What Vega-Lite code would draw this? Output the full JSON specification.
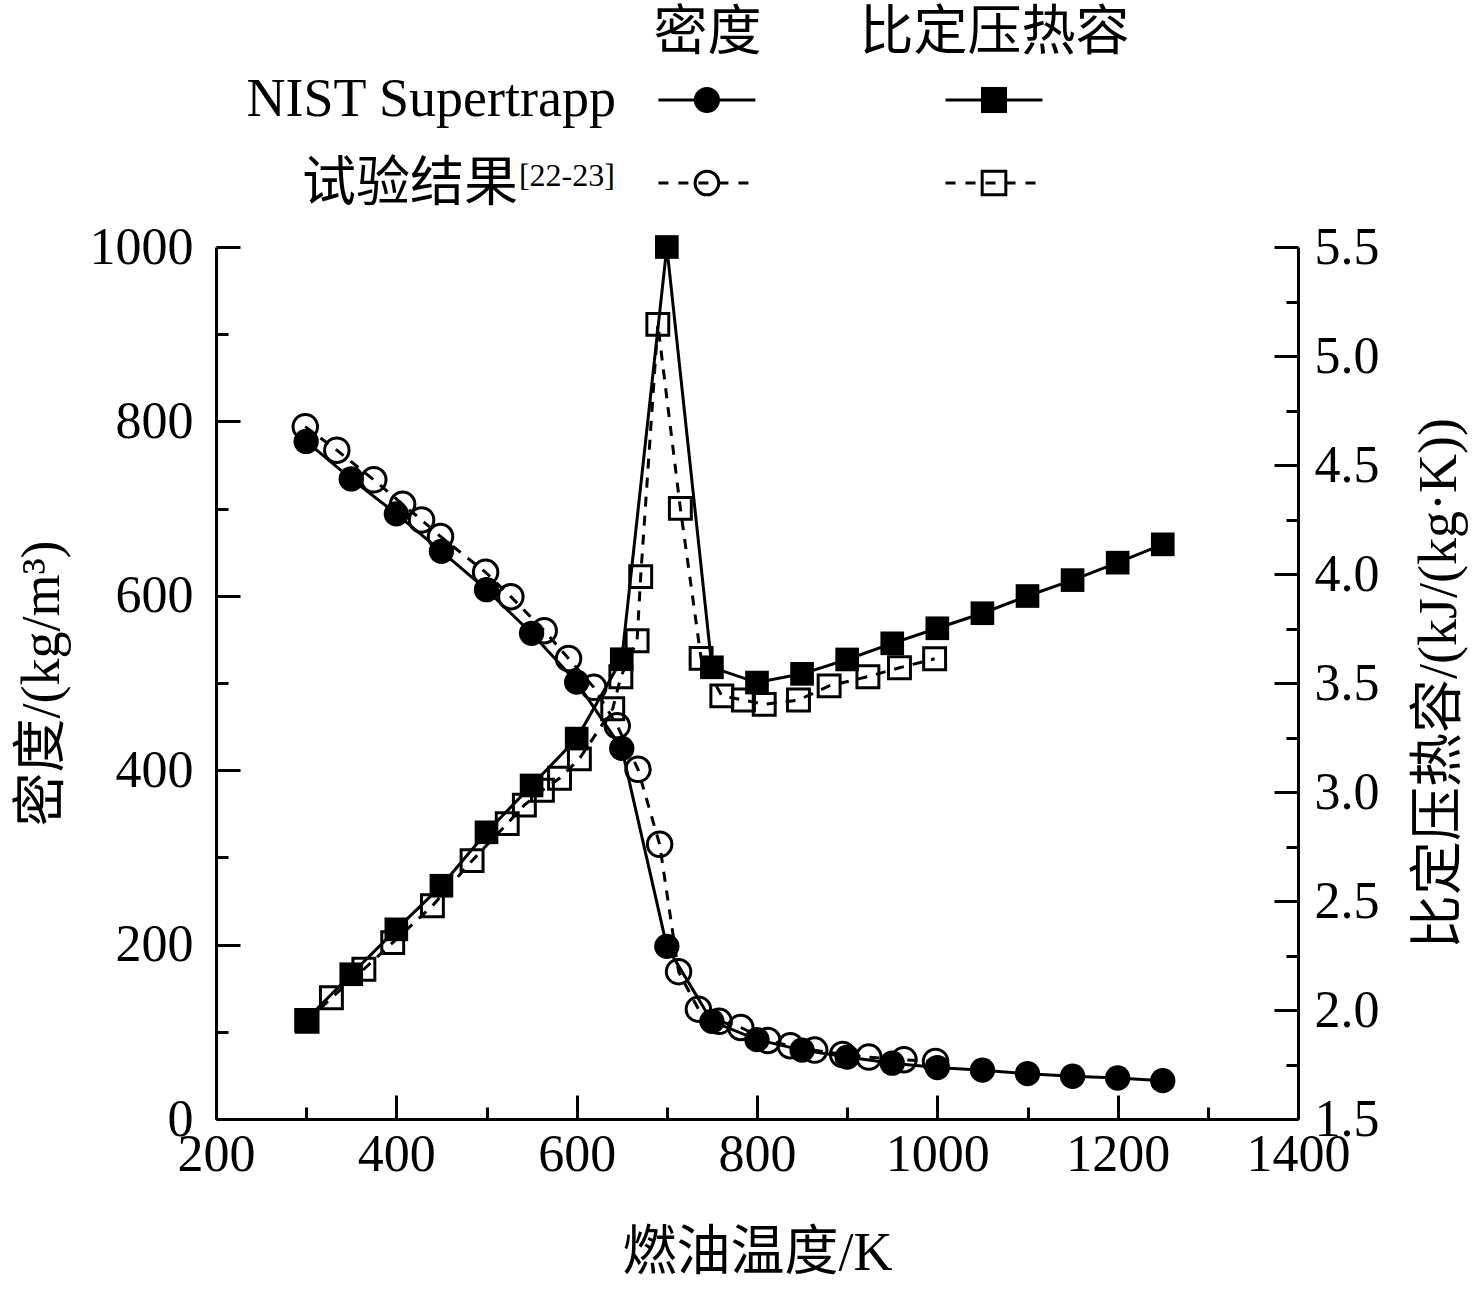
{
  "$schema": "https://vega.github.io/schema/vega-lite/v6.json",
  "background": "white",
  "padding": {"left": 15, "top": 6, "right": 5, "bottom": 5},
  "config": {
    "view": {"stroke": null},
    "font": "Liberation Serif, Noto Sans CJK SC",
    "axis": {"grid": false}
  },
  "datasets": {
    "nist": [
      {"T": 300, "density": 777, "cp": 1.955},
      {"T": 350, "density": 734, "cp": 2.164},
      {"T": 400, "density": 694, "cp": 2.370},
      {"T": 450, "density": 651, "cp": 2.570},
      {"T": 500, "density": 607, "cp": 2.815},
      {"T": 550, "density": 557, "cp": 3.030},
      {"T": 600, "density": 501, "cp": 3.245},
      {"T": 650, "density": 425, "cp": 3.609},
      {"T": 700, "density": 198, "cp": 5.500},
      {"T": 750, "density": 112, "cp": 3.572},
      {"T": 800, "density": 91, "cp": 3.502},
      {"T": 850, "density": 79, "cp": 3.542},
      {"T": 900, "density": 71, "cp": 3.608},
      {"T": 950, "density": 64, "cp": 3.682},
      {"T": 1000, "density": 59, "cp": 3.751},
      {"T": 1050, "density": 56, "cp": 3.820},
      {"T": 1100, "density": 52, "cp": 3.899},
      {"T": 1150, "density": 49, "cp": 3.972},
      {"T": 1200, "density": 47, "cp": 4.052},
      {"T": 1250, "density": 44, "cp": 4.136}
    ],
    "expDensity": [
      {"T": 299, "density": 794},
      {"T": 334, "density": 767},
      {"T": 375, "density": 733},
      {"T": 407, "density": 705},
      {"T": 428, "density": 687},
      {"T": 449, "density": 668},
      {"T": 499, "density": 627},
      {"T": 527, "density": 599},
      {"T": 564, "density": 560},
      {"T": 591, "density": 528},
      {"T": 619, "density": 495},
      {"T": 645, "density": 451},
      {"T": 668, "density": 401},
      {"T": 692, "density": 315},
      {"T": 713, "density": 169},
      {"T": 735, "density": 126},
      {"T": 758, "density": 112},
      {"T": 782, "density": 105},
      {"T": 812, "density": 90},
      {"T": 837, "density": 84},
      {"T": 864, "density": 79},
      {"T": 895, "density": 74},
      {"T": 924, "density": 71},
      {"T": 963, "density": 68},
      {"T": 998, "density": 66}
    ],
    "expCp": [
      {"T": 301, "cp": 1.948},
      {"T": 328, "cp": 2.056},
      {"T": 364, "cp": 2.187},
      {"T": 396, "cp": 2.309},
      {"T": 440, "cp": 2.478},
      {"T": 484, "cp": 2.685},
      {"T": 523, "cp": 2.855},
      {"T": 542, "cp": 2.940},
      {"T": 562, "cp": 3.008},
      {"T": 581, "cp": 3.063},
      {"T": 603, "cp": 3.152},
      {"T": 640, "cp": 3.382},
      {"T": 649, "cp": 3.529},
      {"T": 667, "cp": 3.694},
      {"T": 671, "cp": 3.988},
      {"T": 690, "cp": 5.145},
      {"T": 715, "cp": 4.301},
      {"T": 738, "cp": 3.613},
      {"T": 761, "cp": 3.441},
      {"T": 785, "cp": 3.422},
      {"T": 808, "cp": 3.402},
      {"T": 846, "cp": 3.422},
      {"T": 880, "cp": 3.487},
      {"T": 923, "cp": 3.529},
      {"T": 958, "cp": 3.570},
      {"T": 997, "cp": 3.611}
    ],
    "legendItems": [
      {"source": "NIST Supertrapp", "quantity": "密度"},
      {"source": "NIST Supertrapp", "quantity": "比定压热容"},
      {"source": "试验结果", "quantity": "密度"},
      {"source": "试验结果", "quantity": "比定压热容"}
    ]
  },
  "bounds": "flush",
  "spacing": 24,
  "vconcat": [
    {
      "width": 778,
      "height": 163,
      "data": {"name": "legendItems"},
      "encoding": {
        "x": {
          "field": "quantity", "type": "nominal", "sort": null,
          "scale": {"type": "point", "domain": ["密度", "比定压热容"], "padding": 0.855, "align": 1},
          "axis": {"orient": "top", "title": null, "domain": false, "ticks": false, "labelAngle": 0,
                   "labelFontSize": 54, "labelColor": "black", "labelPadding": 0, "labelLimit": 0,
                   "labelFont": "Liberation Serif, Noto Sans CJK SC"}
        },
        "y": {
          "field": "source", "type": "nominal", "sort": null,
          "scale": {"type": "point", "domain": ["NIST Supertrapp", "试验结果"], "padding": 0.482},
          "axis": null
        }
      },
      "layer": [
        {
          "mark": {"type": "point", "shape": "M-1,0L1,0", "size": 9409, "filled": false, "color": "black", "strokeWidth": 3, "opacity": 1},
          "encoding": {
            "strokeDash": {"field": "source", "type": "nominal",
              "scale": {"domain": ["NIST Supertrapp", "试验结果"], "range": [[1, 0], [10, 10]]}, "legend": null}
          }
        },
        {
          "transform": [{"filter": "datum.source === 'NIST Supertrapp'"}],
          "mark": {"type": "point", "filled": true, "color": "black", "opacity": 1, "size": 680},
          "encoding": {
            "shape": {"field": "quantity", "type": "nominal",
              "scale": {"domain": ["密度", "比定压热容"], "range": ["circle", "square"]}, "legend": null}
          }
        },
        {
          "transform": [{"filter": "datum.source === '试验结果'"}],
          "mark": {"type": "point", "filled": false, "color": "black", "opacity": 1, "strokeWidth": 3, "size": 560},
          "encoding": {
            "shape": {"field": "quantity", "type": "nominal",
              "scale": {"domain": ["密度", "比定压热容"], "range": ["circle", "square"]}, "legend": null}
          }
        },
        {
          "transform": [{"filter": "datum.source === 'NIST Supertrapp' && datum.quantity === '密度'"}],
          "mark": {"type": "text", "align": "right", "baseline": "middle", "dx": -91, "fontSize": 54, "color": "black",
                   "font": "Liberation Serif, Noto Sans CJK SC"},
          "encoding": {"text": {"field": "source"}}
        },
        {
          "transform": [{"filter": "datum.source === '试验结果' && datum.quantity === '密度'"}],
          "mark": {"type": "text", "align": "right", "baseline": "middle", "dx": -189, "dy": 2, "fontSize": 54, "color": "black",
                   "font": "Liberation Serif, Noto Sans CJK SC"},
          "encoding": {"text": {"field": "source"}}
        },
        {
          "transform": [{"filter": "datum.source === '试验结果' && datum.quantity === '密度'"}],
          "mark": {"type": "text", "align": "right", "baseline": "middle", "dx": -92, "dy": -7, "fontSize": 32, "color": "black",
                   "font": "Liberation Serif", "text": "[22-23]"}
        }
      ]
    },
    {
      "width": 1082,
      "height": 872,
      "layer": [
        {
          "data": {"name": "nist"},
          "encoding": {
            "x": {
              "field": "T", "type": "quantitative",
              "scale": {"domain": [200, 1400], "nice": false, "zero": false},
              "axis": {"orient": "bottom", "values": [200, 400, 600, 800, 1000, 1200, 1400], "format": "d",
                       "title": "燃油温度/K", "tickSize": -24, "tickWidth": 3, "tickColor": "black",
                       "domainColor": "black", "domainWidth": 3, "labelFontSize": 52, "labelColor": "black",
                       "labelFont": "Liberation Serif", "labelPadding": 34, "labelFlush": false, "labelOverlap": false,
                       "titleFont": "Liberation Serif, Noto Sans CJK SC", "titleFontSize": 54, "titleFontWeight": "normal",
                       "titleColor": "black", "titlePadding": 46}
            },
            "y": {
              "field": "density", "type": "quantitative",
              "scale": {"domain": [0, 1000], "nice": false, "zero": false},
              "axis": {"orient": "left", "values": [0, 200, 400, 600, 800, 1000], "format": "d",
                       "title": "密度/(kg/m³)", "tickSize": -24, "tickWidth": 3, "tickColor": "black",
                       "domainColor": "black", "domainWidth": 3, "labelFontSize": 52, "labelColor": "black",
                       "labelFont": "Liberation Serif", "labelPadding": 47, "labelFlush": false, "labelOverlap": false,
                       "titleFont": "Liberation Serif, Noto Sans CJK SC", "titleFontSize": 54, "titleFontWeight": "normal",
                       "titleColor": "black", "titlePadding": 20}
            }
          },
          "layer": [
            {"mark": {"type": "line", "color": "black", "strokeWidth": 3}},
            {"mark": {"type": "point", "shape": "circle", "filled": true, "color": "black", "opacity": 1, "size": 640}}
          ]
        },
        {
          "data": {"name": "expDensity"},
          "encoding": {
            "x": {
              "field": "T", "type": "quantitative",
              "scale": {"domain": [200, 1400], "nice": false, "zero": false},
              "axis": {"orient": "bottom", "values": [300, 500, 700, 900, 1100, 1300], "labels": false, "domain": false,
                       "title": null, "tickSize": -12, "tickWidth": 3, "tickColor": "black"}
            },
            "y": {
              "field": "density", "type": "quantitative",
              "scale": {"domain": [0, 1000], "nice": false, "zero": false},
              "axis": {"orient": "left", "values": [100, 300, 500, 700, 900], "labels": false, "domain": false,
                       "title": null, "tickSize": -12, "tickWidth": 3, "tickColor": "black"}
            }
          },
          "layer": [
            {"mark": {"type": "line", "color": "black", "strokeWidth": 3, "strokeDash": [10, 9]}},
            {"mark": {"type": "point", "shape": "circle", "filled": false, "color": "black", "opacity": 1, "strokeWidth": 3, "size": 600}}
          ]
        },
        {
          "data": {"name": "nist"},
          "encoding": {
            "x": {
              "field": "T", "type": "quantitative",
              "scale": {"domain": [200, 1400], "nice": false, "zero": false},
              "axis": null
            },
            "y": {
              "field": "cp", "type": "quantitative",
              "scale": {"domain": [1.5, 5.5], "nice": false, "zero": false},
              "axis": {"orient": "right", "values": [1.5, 2.0, 2.5, 3.0, 3.5, 4.0, 4.5, 5.0, 5.5], "format": ".1f",
                       "title": "比定压热容/(kJ/(kg·K))", "tickSize": -24, "tickWidth": 3, "tickColor": "black",
                       "domainColor": "black", "domainWidth": 3, "labelFontSize": 52, "labelColor": "black",
                       "labelFont": "Liberation Serif", "labelPadding": 40, "labelFlush": false, "labelOverlap": false,
                       "titleFont": "Liberation Serif, Noto Sans CJK SC", "titleFontSize": 54, "titleFontWeight": "normal",
                       "titleColor": "black", "titlePadding": 33, "titleAngle": 270, "titleBaseline": "top"}
            }
          },
          "layer": [
            {"mark": {"type": "line", "color": "black", "strokeWidth": 3}},
            {"mark": {"type": "point", "shape": "square", "filled": true, "color": "black", "opacity": 1, "size": 560}}
          ]
        },
        {
          "data": {"name": "expCp"},
          "encoding": {
            "x": {
              "field": "T", "type": "quantitative",
              "scale": {"domain": [200, 1400], "nice": false, "zero": false},
              "axis": null
            },
            "y": {
              "field": "cp", "type": "quantitative",
              "scale": {"domain": [1.5, 5.5], "nice": false, "zero": false},
              "axis": {"orient": "right", "values": [1.75, 2.25, 2.75, 3.25, 3.75, 4.25, 4.75, 5.25], "labels": false, "domain": false,
                       "title": null, "tickSize": -12, "tickWidth": 3, "tickColor": "black"}
            }
          },
          "layer": [
            {"mark": {"type": "line", "color": "black", "strokeWidth": 3, "strokeDash": [10, 9]}},
            {"mark": {"type": "point", "shape": "square", "filled": false, "color": "black", "opacity": 1, "strokeWidth": 3, "size": 480}}
          ]
        }
      ],
      "resolve": {
        "scale": {"x": "independent", "y": "independent"},
        "axis": {"x": "independent", "y": "independent"}
      }
    }
  ]
}
